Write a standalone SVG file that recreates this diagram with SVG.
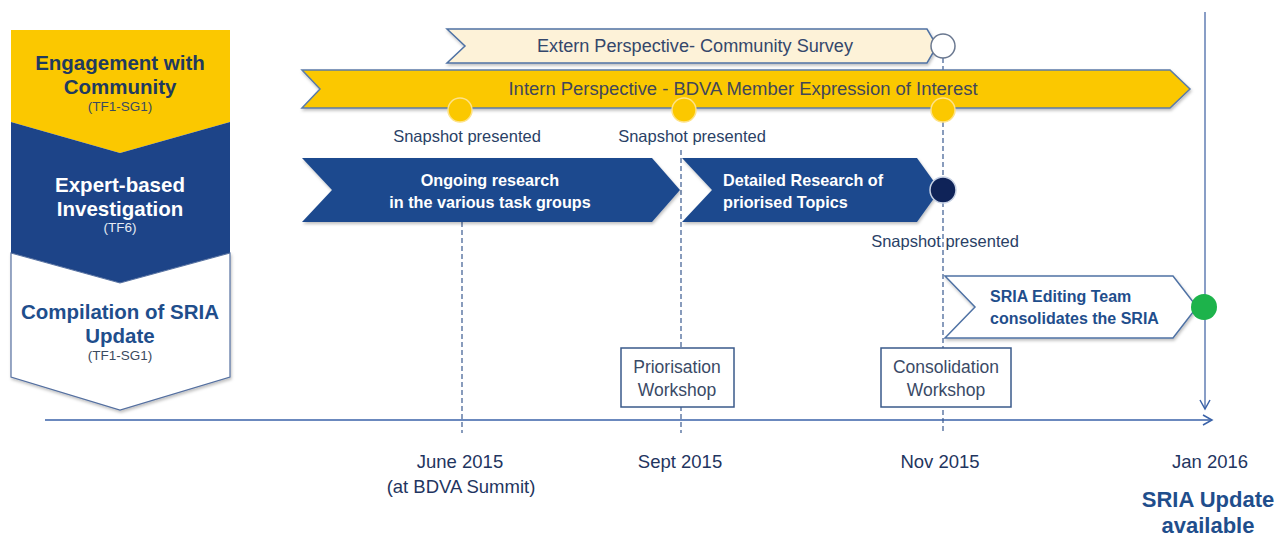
<svg xmlns="http://www.w3.org/2000/svg" width="1277" height="536" viewBox="0 0 1277 536">
<defs>
<style>
.sans{font-family:"Liberation Sans",Arial,sans-serif}
.lbl{font-family:"Liberation Sans",Arial,sans-serif;fill:#2a3f66;font-size:16.5px;text-anchor:middle}
.date{font-family:"Liberation Sans",Arial,sans-serif;fill:#1f3560;font-size:18.5px;text-anchor:middle}
.dash{stroke:#3a5a90;stroke-width:1.2;stroke-dasharray:5,3;fill:none}
.box{fill:#fff;stroke:#3a5a8a;stroke-width:1.5}
.wbold{font-family:"Liberation Sans",Arial,sans-serif;font-weight:bold;fill:#fff;font-size:16.2px}
.ws{font-family:"Liberation Sans",Arial,sans-serif;font-size:17.5px;fill:#3a4a66;text-anchor:middle}
</style>
<filter id="sh" x="-5%" y="-20%" width="110%" height="150%">
<feDropShadow dx="1" dy="2" stdDeviation="1.5" flood-color="#000" flood-opacity="0.25"/>
</filter>
<marker id="arr" markerWidth="12" markerHeight="12" refX="10" refY="6" orient="auto" markerUnits="userSpaceOnUse">
<path d="M1,1 L10,6 L1,11" fill="none" stroke="#3a62a8" stroke-width="1.5"/>
</marker>
</defs>
<rect width="1277" height="536" fill="#fff"/>

<g id="phase-panel">
<polygon points="11,30 230,30 230,122 120,153 11,122" fill="#fbc800"/>
<polygon points="11,122 120,153 230,122 230,253 120,283 11,253" fill="#1d4488"/>
<polygon points="11,253 120,283 230,253 230,377 120,410 11,377" fill="#fff" stroke="#5570a0" stroke-width="1.2" filter="url(#sh)"/>
<g class="sans" text-anchor="middle" font-weight="bold" font-size="20.5">
<text x="120" y="70" fill="#1f3a5f">Engagement with</text>
<text x="120" y="94" fill="#1f3a5f">Community</text>
<text x="120" y="192" fill="#fff">Expert-based</text>
<text x="120" y="216" fill="#fff">Investigation</text>
<text x="120" y="319" fill="#1f4e8c">Compilation of SRIA</text>
<text x="120" y="343" fill="#1f4e8c">Update</text>
</g>
<g class="sans" text-anchor="middle" font-size="13.5">
<text x="120" y="111" fill="#3a4a60">(TF1-SG1)</text>
<text x="120" y="232" fill="#e6ecf5">(TF6)</text>
<text x="120" y="360" fill="#3a4a60">(TF1-SG1)</text>
</g>
</g>

<g id="connectors">
<line x1="1205" y1="12" x2="1205" y2="409" stroke="#4a6aa8" stroke-width="1.3" marker-end="url(#arr)"/>
<line x1="45" y1="420" x2="1212" y2="420" stroke="#3a62a8" stroke-width="1.5" marker-end="url(#arr)"/>
<line class="dash" x1="462" y1="222" x2="462" y2="433"/>
<line class="dash" x1="681" y1="150" x2="681" y2="433"/>
<line class="dash" x1="943" y1="58" x2="943" y2="433"/>
</g>

<g id="extern">
<polygon points="447,29 927,29 937,46 927,63 447,63 465,46" fill="#fdf2d8" stroke="#4f72a4" stroke-width="1.5" filter="url(#sh)"/>
<text class="sans" x="695" y="52" text-anchor="middle" font-size="17.5" fill="#34476b" textLength="316" lengthAdjust="spacingAndGlyphs">Extern Perspective- Community Survey</text>
</g>
<g id="intern">
<polygon points="302,70 1170,70 1190,89 1170,108 302,108 320,89" fill="#fbc800" stroke="#5b7ba8" stroke-width="1.5" filter="url(#sh)"/>
<text class="sans" x="743" y="95" text-anchor="middle" font-size="17.5" fill="#41465a" textLength="469" lengthAdjust="spacingAndGlyphs">Intern Perspective -  BDVA Member Expression of Interest</text>
</g>
<g id="extern-end"><circle cx="943" cy="46" r="12" fill="#fff" stroke="#6a7890" stroke-width="1.5"/></g>
<g id="snap1">
<circle cx="460" cy="110" r="12" fill="#fbc800" stroke="#fde28a" stroke-width="1.5"/>
<text class="lbl" x="467" y="142">Snapshot presented</text>
</g>
<g id="snap2">
<circle cx="684" cy="110" r="12" fill="#fbc800" stroke="#fde28a" stroke-width="1.5"/>
<text class="lbl" x="692" y="142">Snapshot presented</text>
</g>
<g id="snap3">
<circle cx="943" cy="110" r="12" fill="#fbc800" stroke="#fde28a" stroke-width="1.5"/>
</g>

<g id="ongoing">
<polygon points="302,158 652,158 680,190 652,222 302,222 332,190" fill="#1d4a8e" filter="url(#sh)"/>
<text class="wbold" x="490" y="186" text-anchor="middle">Ongoing research</text>
<text class="wbold" x="490" y="208" text-anchor="middle">in the various task groups</text>
</g>
<g id="detailed">
<polygon points="682,158 917,158 940,190 917,222 682,222 712,190" fill="#1d4a8e" filter="url(#sh)"/>
<text class="wbold" x="723" y="186">Detailed Research of</text>
<text class="wbold" x="723" y="208">priorised Topics</text>
</g>
<g id="snap-detailed">
<circle cx="943" cy="190" r="13" fill="#0f2358" stroke="#c8d2e4" stroke-width="1.5"/>
<text class="lbl" x="945" y="247">Snapshot presented</text>
</g>

<g id="sria-editing">
<polygon points="945,276 1173,276 1197,307 1173,338 945,338 975,307" fill="#fff" stroke="#4f72a4" stroke-width="1.5" filter="url(#sh)"/>
<text class="sans" x="990" y="302" font-weight="bold" font-size="16" fill="#1f4e8c">SRIA Editing Team</text>
<text class="sans" x="990" y="324" font-weight="bold" font-size="16" fill="#1f4e8c">consolidates the SRIA</text>
</g>
<g id="sria-done"><circle cx="1204" cy="307" r="13" fill="#1db34b"/></g>

<g id="priorisation-ws">
<rect class="box" x="621" y="348" width="113" height="59"/>
<text class="ws" x="677" y="373">Priorisation</text>
<text class="ws" x="677" y="396">Workshop</text>
</g>
<g id="consolidation-ws">
<rect class="box" x="881" y="348" width="130" height="59"/>
<text class="ws" x="946" y="373">Consolidation</text>
<text class="ws" x="946" y="396">Workshop</text>
</g>

<g id="dates">
<text class="date" x="460" y="468">June 2015</text>
<text class="date" x="461" y="493">(at BDVA Summit)</text>
<text class="date" x="680" y="468">Sept 2015</text>
<text class="date" x="940" y="468">Nov 2015</text>
<text class="date" x="1210" y="468">Jan 2016</text>
<text class="sans" x="1208" y="507" text-anchor="middle" font-weight="bold" font-size="22" fill="#1f4e8c">SRIA Update</text>
<text class="sans" x="1208" y="533" text-anchor="middle" font-weight="bold" font-size="22" fill="#1f4e8c">available</text>
</g>
</svg>
